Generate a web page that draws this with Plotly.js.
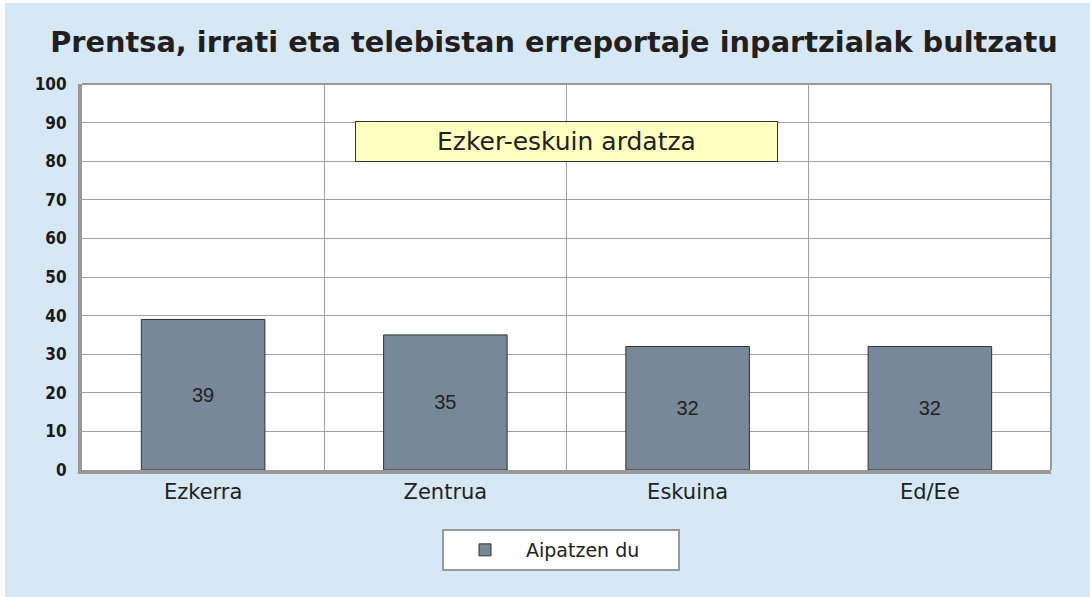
<!DOCTYPE html>
<html>
<head>
<meta charset="utf-8">
<script src="https://cdn.plot.ly/plotly-3.0.1.min.js"></script>
<style>
  html, body { margin: 0; padding: 0; background: #ffffff; }
  #chart { position: absolute; left: 5px; top: 3px; width: 1085px; height: 594px; }
</style>
</head>
<body>
<div id="chart"></div>
<script>
const categories = ["Ezkerra", "Zentrua", "Eskuina", "Ed/Ee"];
const values = [39, 35, 32, 32];
const seriesName = "Aipatzen du";
const yTicks = [0, 10, 20, 30, 40, 50, 60, 70, 80, 90, 100];
const titleText = "Prentsa, irrati eta telebistan erreportaje inpartzialak bultzatu";
const noteText = "Ezker-eskuin ardatza";

const trace = {
  type: "bar",
  x: categories,
  y: values,
  name: seriesName,
  text: values.map(String),
  textposition: "inside",
  insidetextanchor: "middle",
  textfont: { family: "Liberation Sans, Arial, sans-serif", size: 20, color: "#222222" },
  marker: { color: "#778899", line: { color: "#333333", width: 1 } },
  hoverinfo: "x+y"
};

const layout = {
  width: 1085,
  height: 594,
  paper_bgcolor: "#d6e8f5",
  plot_bgcolor: "#ffffff",
  margin: { l: 77, r: 39, t: 81, b: 127 },
  bargap: 0.49,
  showlegend: true,
  title: {
    text: "<b>" + titleText + "</b>",
    font: { family: "DejaVu Sans, Liberation Sans, Arial, sans-serif", size: 28.8, color: "#231f20" },
    x: (554 - 5) / 1085, xanchor: "center",
    xref: "container",
    y: 1 - 39 / 594, yanchor: "middle", yref: "container"
  },
  xaxis: {
    type: "category",
    tickson: "boundaries",
    showgrid: true,
    gridcolor: "#a0a0a0",
    gridwidth: 1,
    ticks: "",
    showline: true,
    linecolor: "#999999",
    linewidth: 4,
    tickfont: { family: "DejaVu Sans, Liberation Sans, Arial, sans-serif", size: 21, color: "#222222" },
    fixedrange: true
  },
  yaxis: {
    range: [0, 100],
    tickvals: yTicks,
    ticktext: yTicks.map(String),
    showgrid: true,
    gridcolor: "#a0a0a0",
    gridwidth: 1,
    zeroline: false,
    ticks: "",
    ticklabelstandoff: 8,
    showline: true,
    linecolor: "#999999",
    linewidth: 4,
    tickfont: { family: "Liberation Sans Narrow, Arial Narrow, DejaVu Sans Condensed, sans-serif", size: 17, color: "#1a1a1a", weight: "bold" },
    fixedrange: true
  },
  shapes: [
    { type: "line", xref: "paper", yref: "paper", x0: 0, x1: 1, y0: 1, y1: 1, line: { color: "#999999", width: 2 } },
    { type: "line", xref: "paper", yref: "paper", x0: 1, x1: 1, y0: 0, y1: 1, line: { color: "#999999", width: 2 } }
  ],
  annotations: [
    {
      text: noteText,
      xref: "paper", yref: "paper",
      x: 0.5, y: 0.85,
      xanchor: "center", yanchor: "middle",
      showarrow: false,
      width: 421, height: 39,
      bgcolor: "#ffffc0",
      bordercolor: "#333333",
      borderwidth: 1,
      borderpad: 0,
      font: { family: "DejaVu Sans, Liberation Sans, Arial, sans-serif", size: 25, color: "#222222" }
    }
  ],
  legend: {
    orientation: "h",
    xref: "container", yref: "container",
    x: (561 - 5) / 1085, xanchor: "center",
    y: 1 - (550 - 3) / 594, yanchor: "middle",
    bgcolor: "#ffffff",
    bordercolor: "#999999",
    borderwidth: 2,
    itemwidth: 72,
    entrywidth: 147,
    font: { family: "DejaVu Sans, Liberation Sans, Arial, sans-serif", size: 19, color: "#222222" }
  }
};

Plotly.newPlot("chart", [trace], layout, { displayModeBar: false, staticPlot: true });
</script>
</body>
</html>
